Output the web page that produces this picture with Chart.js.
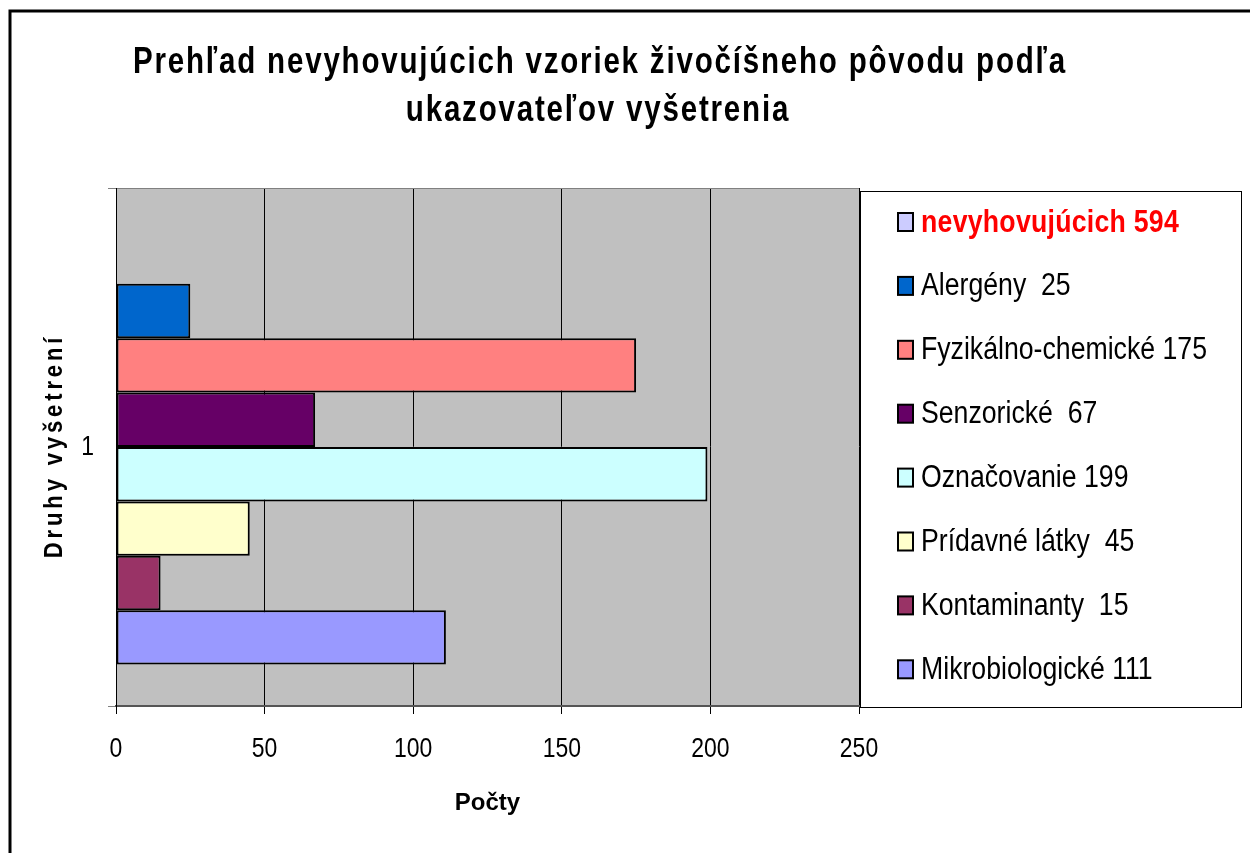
<!DOCTYPE html>
<html>
<head>
<meta charset="utf-8">
<title>Prehľad nevyhovujúcich vzoriek</title>
<script src="https://cdn.jsdelivr.net/npm/chart.js@4.4.1/dist/chart.umd.min.js"></script>
<style>
body{margin:0;background:#fff;}
canvas{display:block;}
</style>
</head>
<body>
<canvas id="Barcanvas" width="1250" height="853"></canvas>
<script>
var categories=["1"];
var seriesNames=["nevyhovujúcich 594","Alergény  25","Fyzikálno-chemické 175","Senzorické  67","Označovanie 199","Prídavné látky  45","Kontaminanty  15","Mikrobiologické 111"];
var seriesValues=[null,25,175,67,199,45,15,111];
var seriesColors=["#CCCCFF","#0066CC","#FF8080","#660066","#CCFFFF","#FFFFCC","#993366","#9999FF"];
var xTicks=[0,50,100,150,200,250];
var titleLines=["Prehľad nevyhovujúcich vzoriek živočíšneho pôvodu podľa","ukazovateľov vyšetrenia"];
var xTitle="Počty";
var yTitle="Druhy vyšetrení";

var sans="'Liberation Sans', Arial, sans-serif";

// no Arial Narrow here, so squeeze Liberation Sans sideways
function narrowText(ctx,text,x,y,squeeze){
    ctx.save();
    ctx.translate(x,y);
    ctx.scale(squeeze,1);
    ctx.fillText(text,0,0);
    ctx.restore();
}

// white page, grey plot area, frame, title, tick labels and the boxed legend (Excel look)
var excelLook={
    id:'excelLook',
    beforeDraw:function(chart){
        var ctx=chart.ctx, a=chart.chartArea;
        ctx.save();
        ctx.fillStyle='#fff';
        ctx.fillRect(0,0,chart.width,chart.height);
        ctx.fillStyle='#C0C0C0';
        ctx.fillRect(a.left,a.top,a.right-a.left,a.bottom-a.top);
        ctx.restore();
    },
    afterDraw:function(chart){
        var ctx=chart.ctx;
        var xs=chart.scales.x, ys=chart.scales.y;
        ctx.save();
        ctx.strokeStyle='#000';
        ctx.lineWidth=3;
        ctx.strokeRect(10,11,1400,1000);

        ctx.fillStyle='#000';
        ctx.textAlign='center';
        ctx.textBaseline='middle';
        ctx.font="bold 36px "+sans;
        ctx.letterSpacing='2.2px';
        narrowText(ctx,titleLines[0],600,63,0.82);
        narrowText(ctx,titleLines[1],598,111,0.82);

        // y axis title, stretched along its length
        ctx.save();
        ctx.translate(55,448);
        ctx.rotate(-Math.PI/2);
        ctx.font="bold 26px "+sans;
        ctx.letterSpacing='4.5px';
        narrowText(ctx,yTitle,2,0,0.85);
        ctx.restore();

        // tick labels
        ctx.letterSpacing='0px';
        ctx.font="28px "+sans;
        for(var k=0;k<xTicks.length;k++){
            narrowText(ctx,String(xTicks[k]),xs.getPixelForValue(xTicks[k]),749,0.82);
        }
        ctx.textAlign='right';
        for(var c=0;c<categories.length;c++){
            narrowText(ctx,categories[c],94,ys.getPixelForValue(c),0.82);
        }

        // legend box
        ctx.fillStyle='#fff';
        ctx.fillRect(860,191,381,516);
        ctx.lineWidth=1;
        ctx.strokeStyle='#000';
        ctx.strokeRect(860.5,191.5,381,516);
        ctx.textAlign='left';
        for(var i=0;i<chart.data.datasets.length;i++){
            var ds=chart.data.datasets[i];
            var cy=222+i*63.9;
            ctx.fillStyle=ds.backgroundColor;
            ctx.fillRect(898,cy-9,15,18);
            ctx.lineWidth=2;
            ctx.strokeStyle='#000';
            ctx.strokeRect(898,cy-9,15,18);
            if(i==0){
                ctx.font="bold 31px "+sans;
                ctx.fillStyle='#FF0000';
                ctx.letterSpacing='0.3px';
            }
            else{
                ctx.font="31px "+sans;
                ctx.fillStyle='#000';
                ctx.letterSpacing='0px';
            }
            narrowText(ctx,ds.label,921,cy+1,0.86);
        }
        ctx.restore();
    }
};

function draw(){
    var datasets=[];
    for(var i=0;i<seriesNames.length;i++){
        datasets.push({
            label:seriesNames[i],
            data:[seriesValues[i]],
            backgroundColor:seriesColors[i],
            borderColor:'#000',
            borderWidth:2,
            borderSkipped:false,
            categoryPercentage:0.84,
            barPercentage:1
        });
    }
    var ctx1=document.getElementById("Barcanvas").getContext("2d");
    window.myBar=new Chart(ctx1,{
        type:'bar',
        data:{labels:categories,datasets:datasets},
        options:{
            indexAxis:'y',
            responsive:false,
            animation:false,
            layout:{padding:{top:188,left:0,right:391,bottom:0}},
            plugins:{
                legend:{display:false},
                title:{display:false},
                tooltip:{enabled:false}
            },
            scales:{
                x:{
                    min:xTicks[0],
                    max:xTicks[xTicks.length-1],
                    ticks:{stepSize:xTicks[1]-xTicks[0],display:false},
                    grid:{color:'#000',lineWidth:1,tickLength:8,tickColor:'#000'},
                    border:{color:'#555',width:2},
                    title:{display:true,text:xTitle,color:'#000',font:{family:sans,size:24,weight:'bold'},padding:{top:0,bottom:35}},
                    afterFit:function(s){s.height=147;}
                },
                y:{
                    ticks:{display:false},
                    grid:{color:'#808080',tickLength:8,offset:true},
                    border:{color:'#000',width:1},
                    afterFit:function(s){s.width=116;}
                }
            }
        },
        plugins:[excelLook]
    });
}

if(document.fonts&&document.fonts.load){
    Promise.all([
        document.fonts.load("24px 'Liberation Sans'"),
        document.fonts.load("bold 36px 'Liberation Sans'")
    ]).then(draw,draw);
}
else draw();
</script>
</body>
</html>
